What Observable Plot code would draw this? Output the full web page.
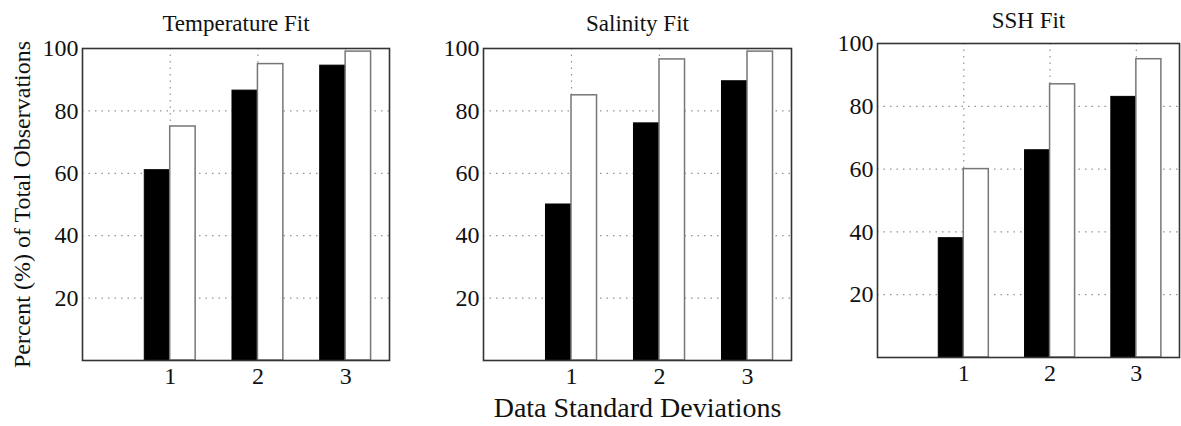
<!DOCTYPE html>
<html>
<head>
<meta charset="utf-8">
<script src="https://cdn.jsdelivr.net/npm/d3@7"></script>
<script src="https://cdn.jsdelivr.net/npm/@observablehq/plot@0.6"></script>
<style>
  html, body { margin: 0; padding: 0; background: #fff; }
  #wrap { position: relative; width: 1181px; height: 426px; overflow: hidden; background: #fff; }
  .panel { position: absolute; top: 0; }
  svg { overflow: visible; }
</style>
</head>
<body>
<div id="wrap">
  <div class="panel" id="p1" style="left:0px"></div>
  <div class="panel" id="p2" style="left:400px"></div>
  <div class="panel" id="p3" style="left:800px"></div>
</div>
<script>
// ---- data ----
const categories = [1, 2, 3];
const yTicks = [20, 40, 60, 80, 100];
const titles = ["Temperature Fit", "Salinity Fit", "SSH Fit"];
const yLabel = "Percent (%) of Total Observations";
const xLabel = "Data Standard Deviations";

const tempBlack = [61, 86.5, 94.5];
const tempWhite = [75, 95, 99];
const salBlack = [50, 76, 89.5];
const salWhite = [85, 96.5, 99];
const sshBlack = [38, 66, 83];
const sshWhite = [60, 87, 95];

const FONT = "'Liberation Serif', 'Times New Roman', serif";
const BW = 0.29; // bar width in x units

function makePanel(opts) {
  const {title, black, white, width, height, ml, mr, mt, mb, titleDy, showY, showX} = opts;
  const blackData = categories.map((c, i) => ({c, v: black[i]}));
  const whiteData = categories.map((c, i) => ({c, v: white[i]}));
  const marks = [
    Plot.gridY(yTicks.slice(0, 4), {stroke: "#888", strokeOpacity: 0.9, strokeDasharray: "1.5,5", strokeWidth: 1.2}),
    Plot.gridX(categories, {stroke: "#888", strokeOpacity: 0.9, strokeDasharray: "1.5,5", strokeWidth: 1.2}),
    Plot.rectY(blackData, {x1: d => d.c - BW, x2: d => d.c, y1: 0, y2: "v", fill: "black", stroke: "black", strokeWidth: 1}),
    Plot.rectY(whiteData, {x1: d => d.c, x2: d => d.c + BW, y1: 0, y2: "v", fill: "white", stroke: "#777", strokeWidth: 1.5}),
    Plot.frame({stroke: "#333", strokeWidth: 1.6}),
    Plot.axisY(yTicks, {tickSize: 0, tickPadding: 4, fontSize: 24, fontFamily: FONT, fill: "#111", label: null}),
    Plot.axisX(categories, {tickSize: 0, tickPadding: 6, fontSize: 24, fontFamily: FONT, fill: "#111", label: null}),
    Plot.text([title], {frameAnchor: "top", lineAnchor: "middle", dy: titleDy, fontSize: 23, fontFamily: FONT, fill: "#111"})
  ];
  if (showY) {
    marks.push(Plot.text([yLabel], {frameAnchor: "left", dx: -60, rotate: -90, textAnchor: "middle", fontSize: 24, fontFamily: FONT, fill: "#111"}));
  }
  if (showX) {
    marks.push(Plot.text([xLabel], {frameAnchor: "bottom", lineAnchor: "middle", dy: 48, fontSize: 28, fontFamily: FONT, fill: "#111"}));
  }
  return Plot.plot({
    width, height,
    marginLeft: ml, marginRight: mr, marginTop: mt, marginBottom: mb,
    style: {background: "transparent", fontFamily: FONT},
    x: {type: "linear", domain: [0, 3.5], axis: null},
    y: {domain: [0, 100], axis: null},
    marks
  });
}

document.getElementById("p1").append(makePanel({
  title: titles[0], black: tempBlack, white: tempWhite, titleDy: -25,
  width: 400, height: 426, ml: 82, mr: 11, mt: 48, mb: 66, showY: true, showX: false
}));
document.getElementById("p2").append(makePanel({
  title: titles[1], black: salBlack, white: salWhite, titleDy: -25,
  width: 400, height: 426, ml: 83, mr: 9, mt: 48, mb: 66, showY: false, showX: true
}));
document.getElementById("p3").append(makePanel({
  title: titles[2], black: sshBlack, white: sshWhite, titleDy: -23,
  width: 381, height: 426, ml: 77, mr: 2, mt: 43, mb: 69, showY: false, showX: false
}));
</script>
</body>
</html>
